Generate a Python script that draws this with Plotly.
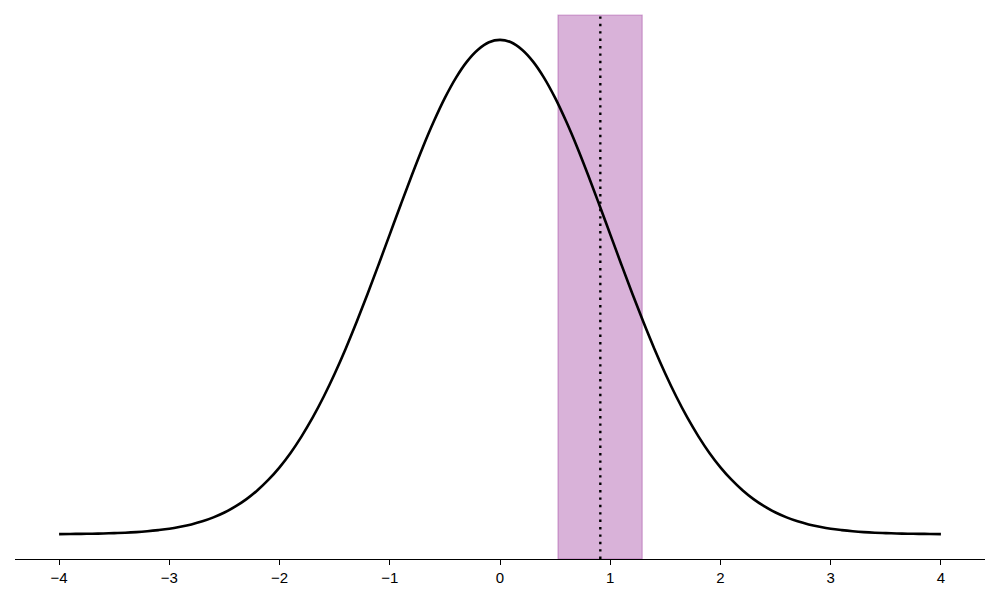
import plotly.graph_objects as go

# Curve values (x in steps of 0.1)
x_vals = [-4.0, -3.9, -3.8, -3.7, -3.6, -3.5, -3.4, -3.3, -3.2, -3.1,
          -3.0, -2.9, -2.8, -2.7, -2.6, -2.5, -2.4, -2.3, -2.2, -2.1,
          -2.0, -1.9, -1.8, -1.7, -1.6, -1.5, -1.4, -1.3, -1.2, -1.1,
          -1.0, -0.9, -0.8, -0.7, -0.6, -0.5, -0.4, -0.3, -0.2, -0.1,
          0.0, 0.1, 0.2, 0.3, 0.4, 0.5, 0.6, 0.7, 0.8, 0.9,
          1.0, 1.1, 1.2, 1.3, 1.4, 1.5, 1.6, 1.7, 1.8, 1.9,
          2.0, 2.1, 2.2, 2.3, 2.4, 2.5, 2.6, 2.7, 2.8, 2.9,
          3.0, 3.1, 3.2, 3.3, 3.4, 3.5, 3.6, 3.7, 3.8, 3.9, 4.0]
y_vals = [0.0001, 0.0002, 0.0003, 0.0004, 0.0006, 0.0009, 0.0012, 0.0017, 0.0024, 0.0033,
          0.0044, 0.0060, 0.0079, 0.0104, 0.0136, 0.0175, 0.0224, 0.0283, 0.0355, 0.0440,
          0.0540, 0.0656, 0.0790, 0.0940, 0.1109, 0.1295, 0.1497, 0.1714, 0.1942, 0.2179,
          0.2420, 0.2661, 0.2897, 0.3123, 0.3332, 0.3521, 0.3683, 0.3814, 0.3910, 0.3970,
          0.3989, 0.3970, 0.3910, 0.3814, 0.3683, 0.3521, 0.3332, 0.3123, 0.2897, 0.2661,
          0.2420, 0.2179, 0.1942, 0.1714, 0.1497, 0.1295, 0.1109, 0.0940, 0.0790, 0.0656,
          0.0540, 0.0440, 0.0355, 0.0283, 0.0224, 0.0175, 0.0136, 0.0104, 0.0079, 0.0060,
          0.0044, 0.0033, 0.0024, 0.0017, 0.0012, 0.0009, 0.0006, 0.0004, 0.0003, 0.0002, 0.0001]

# Shaded band and marker line
band_start = 0.526
band_end = 1.29
marker_x = 0.91

tick_vals = [-4, -3, -2, -1, 0, 1, 2, 3, 4]
tick_text = ["\u22124", "\u22123", "\u22122", "\u22121", "0", "1", "2", "3", "4"]

fig = go.Figure()
fig.add_trace(go.Scatter(x=x_vals, y=y_vals, mode="lines",
                         line=dict(color="black", width=2.6, shape="spline", smoothing=1.0),
                         showlegend=False, hoverinfo="skip"))

fig.add_shape(type="rect", xref="x", yref="paper", x0=band_start, x1=band_end, y0=0, y1=1,
              fillcolor="rgba(128,0,128,0.3)", line=dict(color="rgba(128,0,128,0.3)", width=1.2),
              layer="below")
fig.add_shape(type="line", xref="x", yref="paper", x0=marker_x, x1=marker_x, y0=0, y1=1,
              line=dict(color="black", width=2.4, dash="2.4px,5px"), layer="above")

fig.update_layout(
    width=1000, height=600,
    margin=dict(l=15, r=15, t=15, b=41),
    plot_bgcolor="white", paper_bgcolor="white",
    font=dict(family="Liberation Sans, Arial, sans-serif", size=15, color="black"),
    xaxis=dict(range=[-4.4, 4.4], tickvals=tick_vals, ticktext=tick_text,
               showgrid=False, zeroline=False, showline=True, linecolor="black", linewidth=1,
               ticks="outside", ticklen=5, tickwidth=1, tickcolor="black"),
    yaxis=dict(range=[-0.02, 0.419], showgrid=False, zeroline=False, showline=False,
               showticklabels=False, ticks=""),
)

fig.write_html("out.html", config={"displayModeBar": False},
               post_script="document.body.style.margin='0';")
